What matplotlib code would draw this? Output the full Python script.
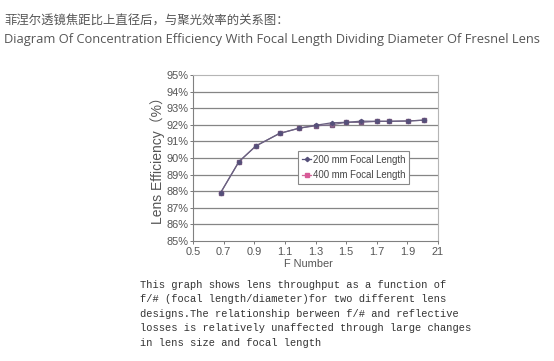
import matplotlib
matplotlib.use("Agg")
import matplotlib.pyplot as plt
from matplotlib.lines import Line2D

# ---- data ----
f_200 = [0.68, 0.80, 0.91, 1.065, 1.195, 1.30, 1.405, 1.50, 1.60, 1.70, 1.78, 1.905, 2.01]
eff_200 = [87.9, 89.78, 90.72, 91.48, 91.8, 91.97, 92.12, 92.15, 92.22, 92.21, 92.21, 92.23, 92.28]
f_400 = [0.68, 0.80, 0.91, 1.065, 1.195, 1.30, 1.405, 1.50, 1.60, 1.70, 1.78, 1.905, 2.01]
eff_400 = [87.9, 89.78, 90.72, 91.48, 91.8, 91.94, 92.0, 92.15, 92.15, 92.21, 92.21, 92.23, 92.28]
x_ticks = [0.5, 0.7, 0.9, 1.1, 1.3, 1.5, 1.7, 1.9, 2.1]
x_tick_labels = ["0.5", "0.7", "0.9", "1.1", "1.3", "1.5", "1.7", "1.9", "21"]
y_ticks = [85, 86, 87, 88, 89, 90, 91, 92, 93, 94, 95]
y_tick_labels = [f"{v}%" for v in y_ticks]
series_labels = ["200 mm Focal Length", "400 mm Focal Length"]

title_cn = "菲涅尔透镜焦距比上直径后，与聚光效率的关系图："
title_en = "Diagram Of Concentration Efficiency With Focal Length Dividing Diameter Of Fresnel Lens"
paragraph = [
    "This graph shows lens throughput as a function of",
    "f/# (focal length/diameter)for two different lens",
    "designs.The relationship berween f/# and reflective",
    "losses is relatively unaffected through large changes",
    "in lens size and focal length",
]

W, H = 554, 361
fig = plt.figure(figsize=(W / 100, H / 100), dpi=100)
fig.patch.set_facecolor("white")

def px(x, y):
    return x / W, 1 - y / H

left, right, top, bottom = 193, 438, 75, 241
ax = fig.add_axes([left / W, 1 - bottom / H, (right - left) / W, (bottom - top) / H])

ax.set_xlim(0.5, 2.1)
ax.set_ylim(85, 95)
ax.set_yticks(y_ticks)
ax.set_yticklabels(y_tick_labels)
ax.set_xticks(x_ticks)
ax.set_xticklabels(x_tick_labels)

for y in y_ticks[1:-1]:
    ax.axhline(y, color="#858585", lw=0.9, zorder=1)

ax.plot(f_400, eff_400, color="#7a6a8a", lw=0.9, marker="s", ms=3.2,
        mfc="#9a6a90", mec="#7a5a80", zorder=3)
ax.plot(f_200, eff_200, color="#6a6080", lw=0.9, marker="D", ms=2.2,
        mfc="#55507a", mec="#55507a", zorder=4)

for lab in ax.get_xticklabels() + ax.get_yticklabels():
    lab.set_fontfamily("Liberation Sans")
    lab.set_fontsize(7.9)
    lab.set_color("#555555")
ax.tick_params(axis="both", direction="out", length=2.5, width=0.7, color="#777777", pad=1)
ax.tick_params(axis="x", pad=2)

for s in ["left", "bottom"]:
    ax.spines[s].set_color("#808080")
    ax.spines[s].set_linewidth(0.8)
for s in ["top", "right"]:
    ax.spines[s].set_color("#b5b5b5")
    ax.spines[s].set_linewidth(0.8)

# legend
handles = [
    Line2D([], [], color="#55507a", lw=0.9, marker="D", ms=2.2, mfc="#55507a", mec="#55507a"),
    Line2D([], [], color="#d06a9a", lw=0.9, marker="s", ms=3.2, mfc="#d85a98", mec="#d85a98"),
]
leg = ax.legend(handles, series_labels, loc="upper left",
                bbox_to_anchor=((298 - left) / (right - left), (bottom - 151) / (bottom - top)),
                frameon=True, fancybox=False, edgecolor="#888888", framealpha=1,
                handlelength=1.0, handletextpad=0.15, borderpad=0.4, labelspacing=0.55,
                borderaxespad=0, prop=dict(family="Liberation Sans", size=6.9))
leg.get_frame().set_linewidth(0.8)
for t in leg.get_texts():
    t.set_color("#444444")

# axis labels
fig.text(*px(158, 157), "Lens Efficiency（%）", rotation=90, ha="center", va="center",
         family=["Liberation Sans", "Noto Sans CJK SC"], fontsize=10, color="#555555")
fig.text(*px(308, 264), "F Number", ha="center", va="center",
         family="Liberation Sans", fontsize=7.9, color="#555555")

# titles
fig.text(*px(4, 21), title_cn, ha="left", va="center",
         family=["Noto Sans CJK SC", "DejaVu Sans"], fontsize=8.9, color="#555555")
fig.text(*px(4, 39), title_en, ha="left", va="center",
         family="Open Sans", fontsize=9.25, color="#555555")

# paragraph
for i, line in enumerate(paragraph):
    fig.text(*px(140, 284.5 + i * 14.6), line, ha="left", va="center",
             family="Liberation Mono", fontsize=7.5, color="#333333")

fig.savefig("out.png", dpi=100, facecolor="white")
